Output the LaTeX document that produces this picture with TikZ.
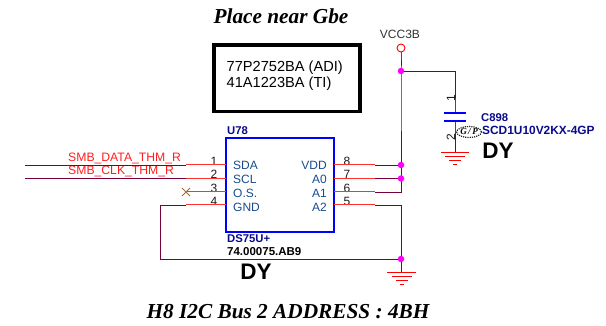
\documentclass[tikz,border=0pt]{standalone}
\usepackage{fontspec}
\usetikzlibrary{shapes.geometric}
\setmainfont{Liberation Sans}
\newfontfamily\serifbi[BoldFont={Liberation Serif Bold Italic},ItalicFont={Liberation Serif Italic}]{Liberation Serif}
\definecolor{wirec}{RGB}{120,0,60}
\definecolor{pinc}{RGB}{255,50,50}
\definecolor{netc}{RGB}{255,30,30}
\definecolor{bluec}{RGB}{0,0,255}
\definecolor{navyc}{RGB}{10,10,140}
\definecolor{pinl}{RGB}{25,75,140}
\definecolor{junc}{RGB}{255,0,255}
\tikzset{
  x=1pt,y=-1pt,
  wire/.style={draw=wirec,line width=0.9pt},
  pinline/.style={draw=pinc,line width=1pt},
  dotj/.style={circle,fill=junc,inner sep=0pt,minimum size=6.5pt},
  txt/.style={inner sep=0pt,font=\fontsize{12}{13}\selectfont},
  pinnum/.style={txt,text=black!90},
  pinname/.style={txt,text=pinl,anchor=west},
  netlab/.style={txt,text=netc,anchor=west,font=\fontsize{12.2}{13}\selectfont},
  navy/.style={txt,text=navyc,anchor=west},
  dy/.style={inner sep=0pt,font=\bfseries\fontsize{22.5}{24}\selectfont},
  title/.style={inner sep=0pt,font=\serifbi\bfseries\itshape\fontsize{21.3}{23}\selectfont},
  gndl/.style={draw=red,line width=0.9pt}
}
\begin{document}
\begin{tikzpicture}
\useasboundingbox (0,0) rectangle (606,326);
% titles
\node[title] (t1) at (281,16) {Place near Gbe};
\node[title] (t2) at (288,311.5) {H8 I2C Bus 2 ADDRESS : 4BH};
% part box
\node[draw=black,line width=3.8pt,minimum width=146pt,minimum height=66.5pt,inner sep=0pt] (part) at (287,78.3) {};
\node[inner sep=0pt,anchor=west,align=left,font=\fontsize{14.6}{15.6}\selectfont] (partt) at (226.5,75.5) {77P2752BA (ADI)\\41A1223BA (TI)};
% IC
\node[draw=bluec,line width=1.1pt,minimum width=108pt,minimum height=94pt,inner sep=0pt] (ic) at (280,185) {};
\node[navy,font=\bfseries\fontsize{11.3}{12}\selectfont] (u) at (227,131) {U78};
\node[navy,font=\bfseries\fontsize{11.3}{12}\selectfont] (ds) at (227,239) {DS75U+};
\node[txt,anchor=west,font=\bfseries\fontsize{11.5}{12}\selectfont] (pn) at (227,252) {74.00075.AB9};
\node[dy] (dy1) at (256,272) {DY};
% pin names
\node[pinname] (sda) at (233,165.5) {SDA};
\node[pinname] (scl) at (233,179.5) {SCL};
\node[pinname] (os) at (233,193) {O.S.};
\node[pinname] (gnd) at (233,207) {GND};
\node[pinname,anchor=east] (vdd) at (327,165.5) {VDD};
\node[pinname,anchor=east] (a0) at (327,179.5) {A0};
\node[pinname,anchor=east] (a1) at (327,193) {A1};
\node[pinname,anchor=east] (a2) at (327,207) {A2};
% pin numbers
\node[pinnum] at (214,161) {1};
\node[pinnum] at (214,174) {2};
\node[pinnum] at (214,188) {3};
\node[pinnum] at (214,201) {4};
\node[pinnum] at (347,161) {8};
\node[pinnum] at (347,174) {7};
\node[pinnum] at (347,188) {6};
\node[pinnum] at (347,201) {5};
% coordinates
\coordinate (l1) at (226,165); \coordinate (l2) at (226,178.5); \coordinate (l3) at (226,192); \coordinate (l4) at (226,205);
\coordinate (m1) at (186,165); \coordinate (m2) at (186,178.5); \coordinate (m3) at (186,192); \coordinate (m4) at (186,205);
\coordinate (e1) at (25,165); \coordinate (e2) at (25,178.5);
\coordinate (r8) at (334,165); \coordinate (r7) at (334,178.5); \coordinate (r6) at (334,192); \coordinate (r5) at (334,205);
\coordinate (s8) at (375,165); \coordinate (s7) at (375,178.5); \coordinate (s6) at (375,192); \coordinate (s5) at (375,205);
\coordinate (c6) at (401,192); \coordinate (c5) at (401,205);
\coordinate (g1) at (160,205); \coordinate (g2) at (160,259);
% nets
\node[netlab] (n1) at (68,158) {SMB\_DATA\_THM\_R};
\node[netlab] (n2) at (68,171.5) {SMB\_CLK\_THM\_R};
\draw[wire] (e1) -- (m1); \draw[wire] (e2) -- (m2);
\draw[pinline] (m1) -- (l1); \draw[pinline] (m2) -- (l2); \draw[pinline] (m3) -- (l3); \draw[pinline] (m4) -- (l4);
\draw[pinline] (r8) -- (s8); \draw[pinline] (r7) -- (s7); \draw[pinline] (r6) -- (s6); \draw[pinline] (r5) -- (s5);
% no connect
\draw[draw=brown!85!black,line width=0.9pt] (182,188) -- (190,196) (182,196) -- (190,188);
% junctions
\coordinate (j0c) at (401,71);
% VCC
\node[circle,draw=red,line width=0.9pt,minimum size=8pt,inner sep=0pt] (vcc) at (401,48) {};
\node[inner sep=0pt,text=black!80,font=\fontsize{12}{13}\selectfont] (vcct) at (400,34) {VCC3B};
\draw[draw=red,line width=0.9pt] (vcc) -- (401,60);
\draw[wire] (401,60) -- (j0c) -- (c6) -- (s6);
\draw[wire] (s8) -- (401,165); \draw[wire] (s7) -- (401,178.5);
\draw[wire] (s5) -- (c5) -- (401,259);
\draw[wire] (m4) -- (g1) -- (g2) -- (401,259);
% GND bottom
\coordinate (gb) at (401,272);
\draw[wire] (401,259) -- (gb);
\draw[gndl] (387,272) -- (416,272) (392,276) -- (412,276) (396,280) -- (408,280) (400,284) -- (404,284);
% capacitor
\coordinate (ct) at (455,71); \coordinate (c1) at (455,98); \coordinate (c2) at (455,113); \coordinate (c3) at (455,121); \coordinate (c4) at (455,133); \coordinate (cb) at (455,152);
\draw[wire] (j0c) -- (ct) -- (c1);
\draw[draw=red,line width=0.9pt] (c1) -- (c2); \draw[draw=red,line width=0.9pt] (c3) -- (c4);
\draw[wire] (c4) -- (cb);
\draw[draw=bluec,line width=1.2pt] (444,113) -- (466,113) (444,121) -- (466,121);
\draw[gndl] (441,152) -- (469,152) (445,156) -- (465,156) (449,160) -- (461,160) (453,164) -- (457,164);
\node[dotj] (j0) at (401,71) {};
\node[dotj] (j8) at (401,165) {};
\node[dotj] (j7) at (401,178.5) {};
\node[dotj] (j5) at (401,259) {};
\node[pinnum,rotate=90] at (451,98) {1};
\node[pinnum,rotate=90] at (451,137) {2};
\node[navy,font=\bfseries\fontsize{11.3}{12}\selectfont] (c898) at (481,117.5) {C898};
\node[navy,font=\bfseries\fontsize{11.9}{12}\selectfont] (cval) at (482,130) {SCD1U10V2KX-4GP};
\node[dy] (dy2) at (498,151) {DY};
% GP mark
\node[draw=black!85,densely dotted,ellipse,minimum width=20pt,minimum height=11pt,inner sep=0pt,line width=1.2pt,font=\serifbi\bfseries\itshape\fontsize{9}{9}\selectfont] (gp) at (469,132) {G\,/\,P};
\end{tikzpicture}
\end{document}
